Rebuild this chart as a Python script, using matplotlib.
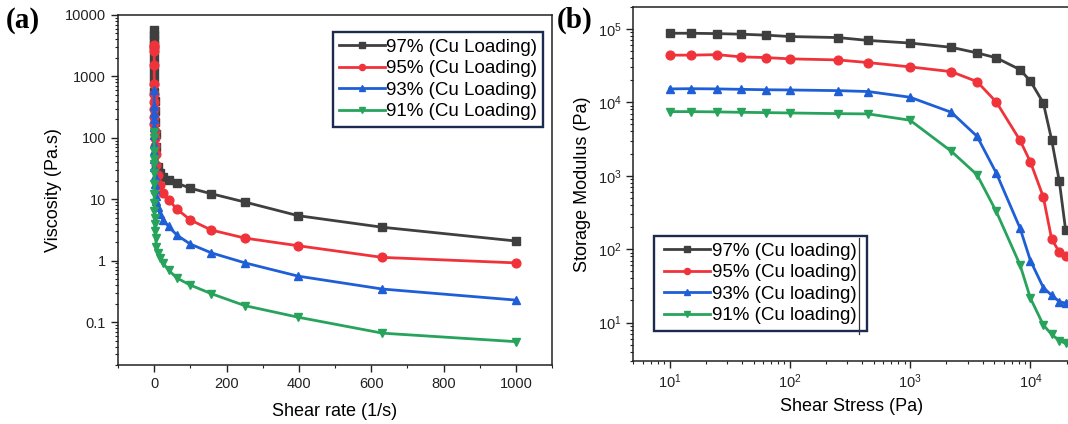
import matplotlib
matplotlib.use("Agg")
import matplotlib.pyplot as plt
from matplotlib.ticker import MultipleLocator, LogLocator, FixedLocator, NullFormatter, FuncFormatter
from matplotlib.lines import Line2D
from matplotlib.patches import Rectangle

plt.rcParams['font.family'] = ['Liberation Sans', 'DejaVu Sans']
plt.rcParams['mathtext.default'] = 'regular'

# ---------------- Panel (a) data: viscosity vs shear rate ----------------
shear_rate = [0.01, 0.0158, 0.0251, 0.0398, 0.0631, 0.1, 0.158, 0.251, 0.398, 0.631,
              1, 1.58, 2.51, 3.98, 6.31, 10, 15.8, 25.1, 39.8, 63.1,
              100, 158, 251, 398, 631, 1000]
visc_97 = [5700, 4800, 4000, 3300, 2700, 2000, 1500, 1100, 800, 560,
           400, 270, 180, 115, 70, 34, 27, 23.3, 20.7, 18.3,
           15.1, 12.3, 9.0, 5.4, 3.5, 2.09]
visc_95 = [3300, 3000, 2600, 1550, 760, 520, 380, 290, 220, 170,
           130, 100, 75, 55, 36, 24.8, 17, 12.7, 9.8, 6.9,
           4.6, 3.15, 2.33, 1.75, 1.13, 0.92]
visc_93 = [600, 330, 250, 200, 150, 110, 80, 60, 45, 33,
           24, 18, 14.5, 11.5, 9.3, 7.5, 5.8, 4.6, 3.6, 2.6,
           1.86, 1.34, 0.92, 0.56, 0.345, 0.228]
visc_91 = [125, 100, 62, 45, 38, 27, 17.5, 12, 8.7, 6.5,
           4.9, 3.9, 3.0, 2.3, 1.7, 1.35, 1.1, 0.9, 0.7, 0.52,
           0.4, 0.29, 0.185, 0.12, 0.066, 0.048]
labels_a = ['97% (Cu Loading)', '95% (Cu Loading)', '93% (Cu Loading)', '91% (Cu Loading)']

# ---------------- Panel (b) data: storage modulus vs shear stress ----------------
shear_stress = [10, 15, 25, 39, 63, 100, 251, 447, 1000, 2200, 3600, 5200,
                8200, 10000, 12800, 15000, 17400, 19600]
g_97 = [87000, 87000, 86000, 84500, 82000, 78500, 76000, 69500, 64000, 56000, 47000, 40300,
        27800, 19400, 9800, 3100, 835, 184]
g_95 = [43800, 43800, 44500, 41500, 40600, 39000, 37700, 34700, 30300, 26100, 19100, 10100,
        3030, 1540, 513, 138, 91, 80]
g_93 = [15200, 15300, 15200, 15000, 14800, 14700, 14400, 14000, 11700, 7300, 3440, 1090,
        193, 70, 30, 23.6, 19.3, 18.4]
g_91 = [7460, 7460, 7390, 7300, 7230, 7150, 7000, 6940, 5690, 2150, 1030, 326,
        61, 21.5, 9.3, 6.9, 5.7, 5.2]
labels_b = ['97% (Cu loading)', '95% (Cu loading)', '93% (Cu loading)', '91% (Cu loading)']

colors = ['#3F3F3F', '#F0333A', '#1F5FD6', '#27A35C']
markers = ['s', 'o', '^', 'v']

W, H = 1068, 424
fig = plt.figure(figsize=(W / 100, H / 100), dpi=100)

def fx(px):
    return px / W

def fy(py):
    return 1 - py / H

# panel a axes: x 118..552, y 15..365 (pixels)
axa = fig.add_axes([fx(118), fy(365), fx(552) - fx(118), fy(15) - fy(365)])
# panel b axes: x 633..(beyond edge), y 6.7..361
b_left = 633.3
b_right = b_left + 4 * 120.3
axb = fig.add_axes([fx(b_left), fy(361), fx(b_right) - fx(b_left), fy(6.7) - fy(361)])

lw = 2.0
ms = 6.3
ha, hb = [], []
for ys, c, m, lab in zip([visc_97, visc_95, visc_93, visc_91], colors, markers, labels_a):
    ha += axa.plot(shear_rate, ys, color=c, marker=m, markersize=ms, linewidth=lw, label=lab)
for ys, c, m, lab in zip([g_97, g_95, g_93, g_91], colors, markers, labels_b):
    hb += axb.plot(shear_stress, ys, color=c, marker=m, markersize=ms, linewidth=lw, label=lab)

# ---- axes a styling
axa.set_yscale('log')
axa.set_xlim(-100, 1100)
axa.set_ylim(0.02, 10000)
axa.xaxis.set_major_locator(MultipleLocator(200))
axa.xaxis.set_minor_locator(MultipleLocator(100))
axa.yaxis.set_major_locator(FixedLocator([0.1, 1, 10, 100, 1000, 10000]))
axa.yaxis.set_major_formatter(FuncFormatter(lambda v, p: ('%g' % v)))
axa.yaxis.set_minor_locator(LogLocator(base=10, subs=range(2, 10), numticks=20))
axa.yaxis.set_minor_formatter(NullFormatter())
axa.set_xlabel('Shear rate (1/s)', fontsize=13, va='top')
axa.set_ylabel('Viscosity (Pa.s)', fontsize=13)
axa.xaxis.set_label_coords(0.5, (365 - 403) / 350)
axa.yaxis.set_label_coords((62 - 118) / 434, 0.5)

# ---- axes b styling
axb.set_xscale('log')
axb.set_yscale('log')
axb.set_xlim(5, 5e4)
axb.set_ylim(3, 2e5)
axb.xaxis.set_major_locator(FixedLocator([10, 100, 1000, 10000]))
axb.yaxis.set_major_locator(FixedLocator([10, 100, 1000, 10000, 100000]))
axb.xaxis.set_minor_locator(LogLocator(base=10, subs=range(2, 10), numticks=20))
axb.yaxis.set_minor_locator(LogLocator(base=10, subs=range(2, 10), numticks=20))
axb.xaxis.set_minor_formatter(NullFormatter())
axb.yaxis.set_minor_formatter(NullFormatter())
axb.set_xlabel('Shear Stress (Pa)', fontsize=13, va='top')
axb.set_ylabel('Storage Modulus (Pa)', fontsize=13)
bw = b_right - b_left
axb.xaxis.set_label_coords((852 - b_left) / bw, (361 - 398) / 354.3)
axb.yaxis.set_label_coords((591 - b_left) / bw, 0.5)
axb.spines['right'].set_visible(False)

for ax in (axa, axb):
    for sp in ax.spines.values():
        sp.set_linewidth(1.1)
        sp.set_color('#222222')
    ax.tick_params(which='major', direction='out', length=5, width=1.0, labelsize=10.5,
                   colors='#222222', labelcolor='#222222')
    ax.tick_params(which='minor', direction='out', length=2.5, width=0.8, colors='#222222')
    ax.tick_params(top=False, right=False, which='both')

# ---- legends (frame drawn as rectangle at the reference box position)
def legend_box(x0, y0, x1, y1, handles, labels):
    rect = Rectangle((fx(x0), fy(y1)), fx(x1) - fx(x0), fy(y0) - fy(y1),
                     transform=fig.transFigure, facecolor='white', edgecolor='#1B2A4E',
                     linewidth=1.7, zorder=3)
    fig.add_artist(rect)
    leg = fig.legend(handles, labels, loc='center',
                     bbox_to_anchor=(fx((x0 + x1) / 2), fy((y0 + y1) / 2)),
                     bbox_transform=fig.transFigure, fontsize=13.5, frameon=False,
                     borderaxespad=0, borderpad=0, labelspacing=0.24, handlelength=2.45,
                     handletextpad=0.1, markerscale=0.7)
    leg.set_zorder(6)
    return leg

legend_box(333, 32, 543, 127, ha, labels_a)
legend_box(654, 236, 867, 331, hb, labels_b)

# small vertical rule inside legend b (as in reference)
fig.add_artist(Line2D([fx(859), fx(859)], [fy(238), fy(334)], color='#333333',
                      linewidth=0.9, zorder=7))

# panel letters
fig.text(fx(6), fy(21), '(a)', fontsize=21, fontweight='bold', family='Liberation Serif',
         ha='left', va='center')
fig.text(fx(557), fy(20), '(b)', fontsize=21, fontweight='bold', family='Liberation Serif',
         ha='left', va='center')

fig.savefig('out.png', dpi=100)
